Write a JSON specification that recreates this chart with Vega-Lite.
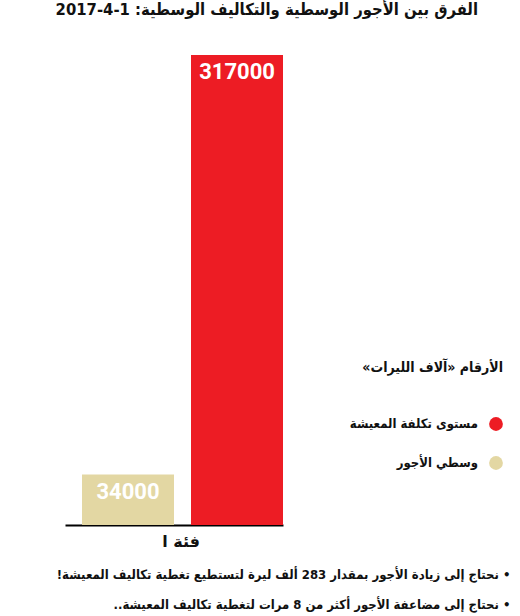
{
  "$schema": "https://vega.github.io/schema/vega-lite/v6.json",
  "width": 218,
  "height": 470,
  "autosize": "none",
  "padding": {"left": 65, "top": 55, "right": 237, "bottom": 91},
  "background": "white",
  "config": {"view": {"stroke": null}},
  "title": {
    "text": "الفرق بين الأجور الوسطية والتكاليف الوسطية: 1-4-2017",
    "font": "DejaVu Sans Condensed",
    "fontSize": 16.5,
    "fontWeight": "bold",
    "color": "#111111",
    "anchor": "end",
    "frame": "group",
    "dx": 195,
    "offset": 37
  },
  "data": {
    "values": [
      {"group": "فئة ا", "series": "وسطي الأجور", "value": 34000},
      {"group": "فئة ا", "series": "مستوى تكلفة المعيشة", "value": 317000}
    ]
  },
  "encoding": {
    "x": {
      "field": "group",
      "type": "nominal",
      "scale": {"paddingInner": 0, "paddingOuter": 0},
      "axis": {
        "title": ["!نحتاج إلى زيادة الأجور بمقدار 283 ألف ليرة لتستطيع تغطية تكاليف المعيشة •", "..نحتاج إلى مضاعفة الأجور أكثر من 8 مرات لتغطية تكاليف المعيشة •"],
        "titleFont": "DejaVu Sans Condensed",
        "titleFontSize": 13,
        "titleFontWeight": "bold",
        "titleColor": "#111111",
        "titleAlign": "right",
        "titleAnchor": "end",
        "titleX": 445,
        "titleY": 43,
        "titleBaseline": "top",
        "titleLineHeight": 30,
        "labelAngle": 0,
        "labelFont": "DejaVu Sans",
        "labelFontSize": 16,
        "labelFontWeight": "bold",
        "labelColor": "#111111",
        "labelPadding": 8,
        "labelOffset": 7,
        "ticks": false,
        "domainColor": "#000000",
        "domainWidth": 2
      }
    },
    "xOffset": {
      "field": "series",
      "type": "nominal",
      "sort": ["وسطي الأجور", "مستوى تكلفة المعيشة"],
      "scale": {"paddingInner": 0.156, "paddingOuter": 0.078, "align": 1}
    },
    "y": {
      "field": "value",
      "type": "quantitative",
      "scale": {"domain": [0, 317000], "nice": false},
      "axis": null
    }
  },
  "layer": [
    {
      "mark": {"type": "bar"},
      "encoding": {
        "color": {
          "field": "series",
          "type": "nominal",
          "scale": {"domain": ["مستوى تكلفة المعيشة", "وسطي الأجور"], "range": ["#ED1C24", "#E3D7A3"]},
          "legend": {
            "title": "‏الأرقام «آلاف الليرات»‏",
            "orient": "none",
            "legendX": 297,
            "legendY": 306,
            "titleFont": "DejaVu Sans Condensed",
            "titleFontSize": 14,
            "titleFontWeight": "bold",
            "titleColor": "#111111",
            "titleAnchor": "end",
            "titleAlign": "right",
            "titlePadding": 42,
            "labelFont": "DejaVu Sans Condensed",
            "labelFontSize": 13,
            "labelFontWeight": "bold",
            "labelColor": "#111111",
            "labelAlign": "right",
            "labelOffset": -25,
            "labelLimit": 300,
            "symbolType": "circle",
            "symbolSize": 190,
            "symbolStrokeWidth": 0,
            "rowPadding": 25
          }
        }
      }
    },
    {
      "mark": {"type": "text", "baseline": "top", "dy": 7, "font": "Roboto", "fontSize": 22, "fontWeight": "bold", "fill": "white"},
      "encoding": {
        "text": {"field": "value", "type": "quantitative", "format": "d"}
      }
    }
  ]
}
